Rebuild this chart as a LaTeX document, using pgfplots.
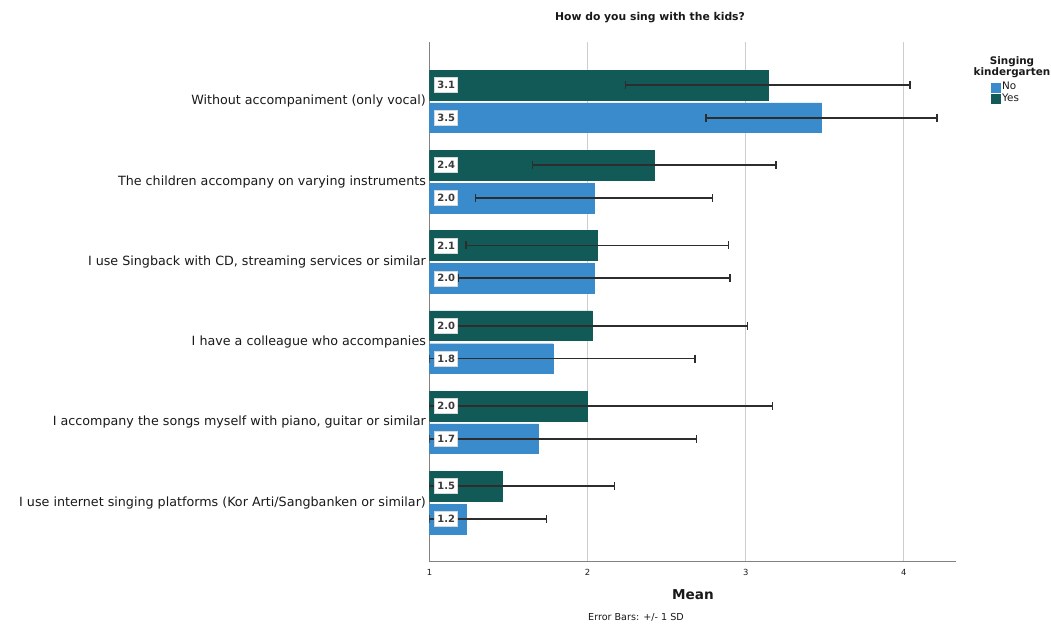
\documentclass[border=0pt]{standalone}
\usepackage{fontspec}
\setmainfont{DejaVu Sans}
\usepackage{pgfplots}
\pgfplotsset{compat=1.18}
\usepackage{pgfplotstable}

\definecolor{yesc}{RGB}{17,90,88}
\definecolor{noc}{RGB}{58,139,204}
\definecolor{gridc}{RGB}{205,205,205}
\definecolor{axisc}{RGB}{130,130,130}
\definecolor{errc}{RGB}{45,45,45}
\definecolor{txt}{RGB}{25,25,25}

% mean and +/- 1 SD (minus part stops at the scale minimum of 1)
% y: 5 = top category, 0 = bottom category
\pgfplotstableread{
y mean sdp sdm
5 3.14 0.90 0.90
4 2.42 0.77 0.77
3 2.06 0.83 0.83
2 2.03 0.98 0.98
1 2.00 1.17 1.00
0 1.46 0.71 0.46
}\yesdata

\pgfplotstableread{
y mean sdp sdm
5 3.48 0.73 0.73
4 2.04 0.75 0.75
3 2.04 0.86 0.86
2 1.78 0.90 0.78
1 1.69 1.00 0.69
0 1.23 0.51 0.23
}\nodata

\pgfplotsset{
  barleg/.style={legend image code/.code={\fill[##1,/tikz/.cd,draw=none] (0pt,-2.5pt) rectangle (5pt,2.5pt);}},
  sdbars/.style={error bars/.cd, x dir=both, x explicit,
    error bar style={errc, line width=0.85pt},
    error mark options={errc, line width=0.75pt, mark size=2pt, rotate=90}},
  vallabel/.style={forget plot, draw=none, mark=none,
    nodes near coords={\pgfmathprintnumber[fixed,fixed zerofill,precision=1]{\pgfplotspointmeta}},
    point meta=explicit,
    every node near coord/.style={anchor=west, xshift=2.5pt, fill=white, draw=gray!30, line width=0.3pt,
      inner sep=0pt, minimum width=11.5pt, minimum height=7.5pt,
      font=\bfseries\fontsize{5}{6}\selectfont, text=txt!85}},
}

\begin{document}
\begin{tikzpicture}
\path[use as bounding box] (0,0) rectangle (525.5pt,313pt);
\begin{axis}[
  at={(214.75pt,32pt)}, anchor=south west,
  width=263.25pt, height=260pt, scale only axis,
  xmin=1, xmax=4.33, ymin=-0.74, ymax=5.74,
  axis x line*=bottom, axis y line*=left,
  axis line style={axisc, line width=0.5pt, -},
  xtick={1,2,3,4},
  xmajorgrids, grid style={gridc, line width=0.5pt},
  major tick length=0pt,
  ytick={0,...,5},
  yticklabels={
    I use internet singing platforms (Kor Arti/Sangbanken or similar),
    {I accompany the songs myself with piano, guitar or similar},
    I have a colleague who accompanies,
    {I use Singback with CD, streaming services or similar},
    The children accompany on varying instruments,
    Without accompaniment (only vocal)},
  yticklabel style={font=\fontsize{6.35}{7.5}\selectfont, text=txt, inner sep=1.6pt},
  xticklabel style={font=\fontsize{4.2}{5}\selectfont, text=txt, inner sep=0pt, yshift=-3.6pt},
  /pgf/number format/assume math mode=true,
  reverse legend,
  legend cell align=left,
  legend style={at={(rel axis cs:1.066,0.925)}, anchor=north west, draw=none, fill=none,
    inner sep=0pt, font=\fontsize{5.2}{6}\selectfont, row sep=-0.6pt,
    nodes={inner sep=0.5pt, text=txt}},
]
% bars are placed at their own y positions so that the SD bars follow them
\addplot[xbar, bar width=0.37, bar shift=0pt, fill=yesc, draw=yesc, line width=0.2pt, barleg, sdbars]
  table[x=mean, y expr=\thisrow{y}+0.205, x error plus=sdp, x error minus=sdm] {\yesdata};
\addlegendentry{Yes}
\addplot[xbar, bar width=0.37, bar shift=0pt, fill=noc, draw=noc, line width=0.2pt, barleg, sdbars]
  table[x=mean, y expr=\thisrow{y}-0.205, x error plus=sdp, x error minus=sdm] {\nodata};
\addlegendentry{No}
% value labels at the base of each bar
\addplot[vallabel] table[x expr=1, y expr=\thisrow{y}+0.205, meta=mean] {\yesdata};
\addplot[vallabel] table[x expr=1, y expr=\thisrow{y}-0.205, meta=mean] {\nodata};
\end{axis}
\node[font=\bfseries\fontsize{5.4}{6.5}\selectfont, text=txt] at (325pt,304pt) {How do you sing with the kids?};
\node[font=\bfseries\fontsize{5.2}{6}\selectfont, text=txt, align=center] at (506pt,279.5pt) {Singing\\[-0.8pt]kindergarten};
\node[font=\bfseries\fontsize{6.8}{8}\selectfont, text=txt] at (346.5pt,15.5pt) {Mean};
\node[font=\fontsize{4.8}{6}\selectfont, text=txt] at (318pt,4.5pt) {Error Bars: +/- 1 SD};
\end{tikzpicture}
\end{document}
